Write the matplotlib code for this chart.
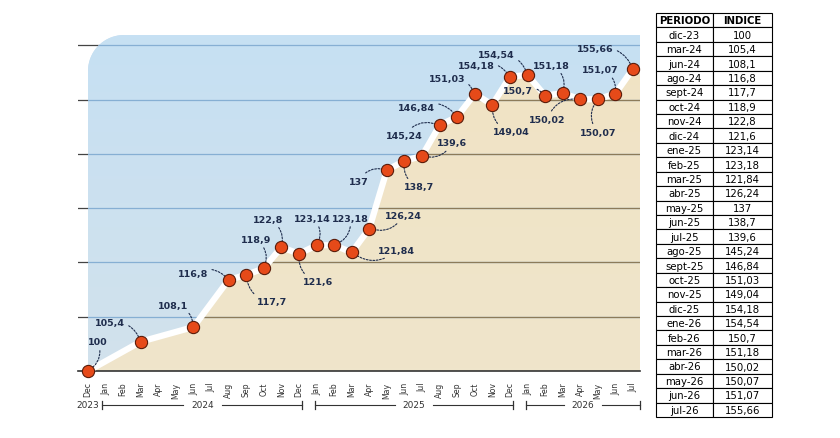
import numpy as np
import matplotlib.pyplot as plt
from matplotlib.path import Path
from matplotlib.patches import PathPatch, Polygon
from matplotlib.colors import LinearSegmentedColormap

periods = ["dic-23", "mar-24", "jun-24", "ago-24", "sept-24", "oct-24", "nov-24", "dic-24",
           "ene-25", "feb-25", "mar-25", "abr-25", "may-25", "jun-25", "jul-25", "ago-25",
           "sept-25", "oct-25", "nov-25", "dic-25", "ene-26", "feb-26", "mar-26", "abr-26",
           "may-26", "jun-26", "jul-26"]
index_values = [100, 105.4, 108.1, 116.8, 117.7, 118.9, 122.8, 121.6,
                123.14, 123.18, 121.84, 126.24, 137, 138.7, 139.6, 145.24,
                146.84, 151.03, 149.04, 154.18, 154.54, 150.7, 151.18, 150.02,
                150.07, 151.07, 155.66]
month_abbr = ["Jan", "Feb", "Mar", "Apr", "May", "Jun", "Jul", "Aug", "Sep", "Oct", "Nov", "Dec"]
years = ["2023", "2024", "2025", "2026"]
gridline_values = [110, 120, 130, 140, 150, 160]

# label offsets in pixels (dx, dy up) relative to each ball
label_offsets = [(10, 29), (-31, 19), (-20, 22), (-36, 6), (26, -27), (-8, 29), (-13, 28),
                 (19, -28), (-4, 27), (16, 27), (45, 2), (34, 13), (-28, -11), (15, -26),
                 (30, 13), (-35, -10), (-41, 9), (-28, 15), (19, -27), (-34, 11), (-31, 20),
                 (-27, 5), (-11, 28), (-33, -20), (0, -33), (-15, 24), (-38, 20)]

es_month = {"ene": 1, "feb": 2, "mar": 3, "abr": 4, "may": 5, "jun": 6, "jul": 7,
            "ago": 8, "sept": 9, "oct": 10, "nov": 11, "dic": 12}


def month_index(p):
    m, y = p.split("-")
    return (int(y) - 23) * 12 + es_month[m] - 12


x = np.array([month_index(p) for p in periods], dtype=float)
y = np.array(index_values)
n_months = 32
tick_labels = [month_abbr[(11 + i) % 12] for i in range(n_months)]

NAVY = "#1f2d4d"
NARROW = ["Liberation Sans Narrow", "DejaVu Sans"]

fig = plt.figure(figsize=(8.4, 4.39), dpi=100)
ax = fig.add_axes([78 / 840, 1 - 372 / 439, 562 / 840, 336 / 439])
xmin, xmax = -10 / 17.58, 31 + 7 / 17.58
ymin, ymax = 100, 100 + 336 / 5.43
ax.set_xlim(xmin, xmax)
ax.set_ylim(ymin, ymax)
for s in ax.spines.values():
    s.set_visible(False)

# sky panel with a rounded top-left corner
rx, ry = 36 / 17.58, 36 / 5.43
t = np.linspace(np.pi, np.pi / 2, 20)
verts = [(0, ymin), (0, ymax - ry)]
verts += [(rx + rx * np.cos(a), ymax - ry + ry * np.sin(a)) for a in t]
verts += [(xmax, ymax), (xmax, ymin), (0, ymin)]
sky = PathPatch(Path(verts, closed=True), facecolor="#c8def0", edgecolor="none", zorder=1)
ax.add_patch(sky)
grad = np.linspace(0, 1, 100).reshape(-1, 1)
sky_cmap = LinearSegmentedColormap.from_list("sky", ["#d2e2ec", "#c6e0f3"])
img = ax.imshow(grad, extent=[0, xmax, ymin, ymax], cmap=sky_cmap, aspect="auto",
                origin="lower", zorder=1)
img.set_clip_path(sky)

ground_verts = [(0, ymin)] + list(zip(x, y)) + [(xmax, y[-1]), (xmax, ymin)]
ground = Polygon(ground_verts, closed=True, facecolor="#f0e5ca", edgecolor="none", zorder=2)
ax.add_patch(ground)
ground_cmap = LinearSegmentedColormap.from_list("ground", ["#efe5cb", "#f1e3c4"])
gimg = ax.imshow(grad, extent=[0, xmax, ymin, ymax], cmap=ground_cmap, aspect="auto",
                 origin="lower", zorder=2)
gimg.set_clip_path(ground)

# gridlines: dark outside, tinted over the panels
for gv in gridline_values:
    ax.axhline(gv, color="#444444", lw=0.9, zorder=0.5)
    l1 = ax.axhline(gv, color="#86afd3", lw=0.9, zorder=2.5)
    l1.set_clip_path(sky)
    l2 = ax.axhline(gv, color="#8c7b5a", lw=0.9, zorder=2.6)
    l2.set_clip_path(ground)
ax.axhline(100, color="#333333", lw=1.2, zorder=3, clip_on=False)

ax.plot(x, y, color="white", lw=4.5, solid_joinstyle="miter", zorder=4, clip_on=False)
ax.plot(x, y, "o", ms=8.8, mfc="#e64a19", mec="#5a1c0a", mew=0.8, zorder=6, clip_on=False)

for xi, yi, v, (dx, dy) in zip(x, y, index_values, label_offsets):
    txt = f"{v:g}".replace(".", ",")
    ax.annotate(txt, xy=(xi, yi), xytext=(dx * 0.72, dy * 0.72), textcoords="offset points",
                ha="center", va="center", fontsize=6.8, fontweight="bold", color=NAVY, zorder=5,
                arrowprops=dict(arrowstyle="-", linestyle=(0, (1.6, 1.4)), color=NAVY, lw=0.8,
                                connectionstyle="arc3,rad=-0.4", shrinkA=1, shrinkB=0))

ax.set_xticks(np.arange(n_months))
ax.set_xticklabels(tick_labels, rotation=90, fontsize=5.6, family=NARROW, color="#333333")
ax.tick_params(axis="x", length=0, pad=7.5)
ax.set_yticks([])

# year brackets under the month labels
yb = (372 - 406) / 336
trans = ax.get_xaxis_transform()
ax.text(0, yb, years[0], transform=trans, ha="center", va="center", fontsize=6.5,
        family=NARROW, color="#333333")
spans = [(0.8, 12.2), (12.9, 24.2), (24.9, 31.4)]
for yr, (a, b) in zip(years[1:], spans):
    mid = (a + b) / 2
    half = 1.1
    ax.plot([a, mid - half], [yb, yb], color="#333333", lw=0.8, transform=trans, clip_on=False)
    ax.plot([mid + half, b], [yb, yb], color="#333333", lw=0.8, transform=trans, clip_on=False)
    for e in (a, b):
        ax.plot([e, e], [yb - 0.012, yb + 0.012], color="#333333", lw=0.9, transform=trans,
                clip_on=False)
    ax.text(mid, yb, yr, transform=trans, ha="center", va="center", fontsize=6.5,
            family=NARROW, color="#333333")

# table on the right
tax = fig.add_axes([656 / 840, 1 - 418 / 439, 116 / 840, 404 / 439])
tax.axis("off")
cells = [[p, f"{v:g}".replace(".", ",")] for p, v in zip(periods, index_values)]
tab = tax.table(cellText=cells, colLabels=["PERIODO", "INDICE"], cellLoc="center",
                bbox=[0, 0, 1, 1], colWidths=[0.49, 0.51])
tab.auto_set_font_size(False)
for (r, c), cell in tab.get_celld().items():
    cell.set_linewidth(0.8)
    cell.set_edgecolor("black")
    cell.get_text().set_fontsize(7.3)
    cell.get_text().set_fontfamily(NARROW)
    if r == 0:
        cell.get_text().set_fontweight("bold")

fig.savefig("out.png", dpi=100)
